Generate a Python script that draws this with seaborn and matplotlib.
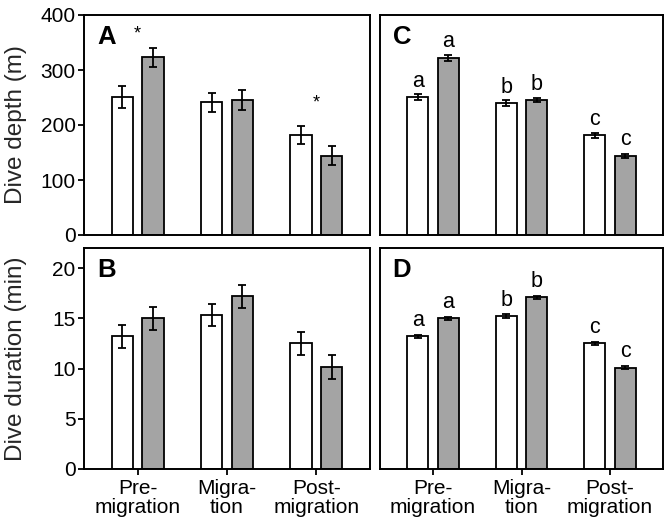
import numpy as np
import pandas as pd
import matplotlib
matplotlib.use("Agg")
import matplotlib.pyplot as plt
import seaborn as sns

#%% data
periods = ["Pre-\nmigration", "Migra-\ntion", "Post-\nmigration"]
groups = ["Group 1", "Group 2"]

# panel A (dive depth, m) - mean and SE, [group1, group2] per period
depth_a_g1 = [251, 241, 182]
depth_a_g2 = [323, 245, 144]
depth_a_se1 = [20, 18, 17]
depth_a_se2 = [17, 18, 17]
star_a = ["*", "", "*"]
star_a_y = [365, 0, 240]

# panel B (dive duration, min)
dur_b_g1 = [13.2, 15.3, 12.5]
dur_b_g2 = [15.0, 17.2, 10.15]
dur_b_se1 = [1.15, 1.1, 1.15]
dur_b_se2 = [1.15, 1.15, 1.15]

# panel C (dive depth, m)
depth_c_g1 = [251, 240, 181]
depth_c_g2 = [322, 245, 144]
depth_c_se1 = [5, 5, 5]
depth_c_se2 = [5, 4, 4]
letters_c_g1 = ["a", "b", "c"]
letters_c_g2 = ["a", "b", "c"]

# panel D (dive duration, min)
dur_d_g1 = [13.2, 15.2, 12.5]
dur_d_g2 = [15.0, 17.1, 10.1]
dur_d_se1 = [0.15, 0.2, 0.12]
dur_d_se2 = [0.15, 0.15, 0.15]
letters_d_g1 = ["a", "b", "c"]
letters_d_g2 = ["a", "b", "c"]

#%% style
sns.set_theme(style="ticks")
plt.rcParams['font.family'] = ['Liberation Sans', 'DejaVu Sans']
plt.rcParams['axes.linewidth'] = 1.4
plt.rcParams['text.color'] = 'black'
plt.rcParams['xtick.color'] = 'black'
plt.rcParams['ytick.color'] = 'black'
plt.rcParams['axes.edgecolor'] = 'black'

GRAY = "#a4a4a4"


def make_df(g1, g2):
    return pd.DataFrame({
        "period": periods * 2,
        "group": [groups[0]] * 3 + [groups[1]] * 3,
        "value": list(g1) + list(g2),
    })


def draw(ax, g1, g2, se1, se2, ylim, letters=None):
    df = make_df(g1, g2)
    sns.barplot(data=df, x="period", y="value", hue="group",
                palette=["white", GRAY], edgecolor="black", linewidth=1.3,
                width=0.69, gap=0.31, errorbar=None, legend=False,
                saturation=1, ax=ax)
    tops = []
    for cont, se in zip(ax.containers, [se1, se2]):
        xs = [b.get_x() + b.get_width() / 2 for b in cont]
        ys = [b.get_height() for b in cont]
        ax.errorbar(xs, ys, yerr=se, fmt="none", ecolor="black",
                    elinewidth=1.3, capsize=2.8, capthick=1.3, zorder=5)
        tops.append((xs, ys))
    if letters is not None:
        for (xs, ys), labs in zip(tops, letters):
            for x, y, t in zip(xs, ys, labs):
                ax.annotate(t, (x, y), xytext=(0, 7.5), textcoords="offset points",
                            ha="center", va="baseline", fontsize=15.5)
    ax.set_xlim(-0.6, 2.6)
    ax.set_ylim(*ylim)
    ax.set_xlabel("")
    ax.set_ylabel("")
    for s in ax.spines.values():
        s.set_visible(True)
        s.set_linewidth(1.4)


fig = plt.figure(figsize=(6.65, 5.24), dpi=100)
W, H = 665, 524


def px_axes(x0, y0, x1, y1):
    return fig.add_axes([x0 / W, 1 - y1 / H, (x1 - x0) / W, (y1 - y0) / H])


ax_a = px_axes(84, 15, 370, 235)
ax_b = px_axes(84, 248, 370, 469)
ax_c = px_axes(380, 15, 663, 235)
ax_d = px_axes(380, 248, 663, 469)

draw(ax_a, depth_a_g1, depth_a_g2, depth_a_se1, depth_a_se2, (0, 400))
draw(ax_b, dur_b_g1, dur_b_g2, dur_b_se1, dur_b_se2, (0, 22))
draw(ax_c, depth_c_g1, depth_c_g2, depth_c_se1, depth_c_se2, (0, 400),
     letters=[letters_c_g1, letters_c_g2])
draw(ax_d, dur_d_g1, dur_d_g2, dur_d_se1, dur_d_se2, (0, 22),
     letters=[letters_d_g1, letters_d_g2])

# stars in A
for i, (s, y) in enumerate(zip(star_a, star_a_y)):
    if s:
        ax_a.text(i, y, s, ha="center", va="center", fontsize=13)

# ticks
ax_a.set_yticks([0, 100, 200, 300, 400])
ax_b.set_yticks([0, 5, 10, 15, 20])
for ax in (ax_a, ax_b):
    ax.tick_params(axis="y", direction="out", length=4, width=1.3,
                   labelsize=15, pad=2)
for ax in (ax_c, ax_d):
    ax.tick_params(axis="y", left=False, labelleft=False)
for ax in (ax_a, ax_c):
    ax.tick_params(axis="x", bottom=False, labelbottom=False)
for ax in (ax_b, ax_d):
    ax.tick_params(axis="x", direction="out", length=4, width=1.3,
                   labelsize=15, pad=3)
    for lab in ax.get_xticklabels():
        lab.set_linespacing(1.0)

ax_a.set_ylabel("Dive depth (m)", fontsize=17.5)
ax_b.set_ylabel("Dive duration (min)", fontsize=17.5)
ax_a.yaxis.set_label_coords(-0.2, 0.5)
ax_b.yaxis.set_label_coords(-0.2, 0.5)

for ax, letter in zip((ax_a, ax_b, ax_c, ax_d), "ABCD"):
    ax.text(0.045, 0.955, letter, transform=ax.transAxes, ha="left", va="top",
            fontsize=18.5, fontweight="bold")

fig.savefig("out.png", dpi=100)
